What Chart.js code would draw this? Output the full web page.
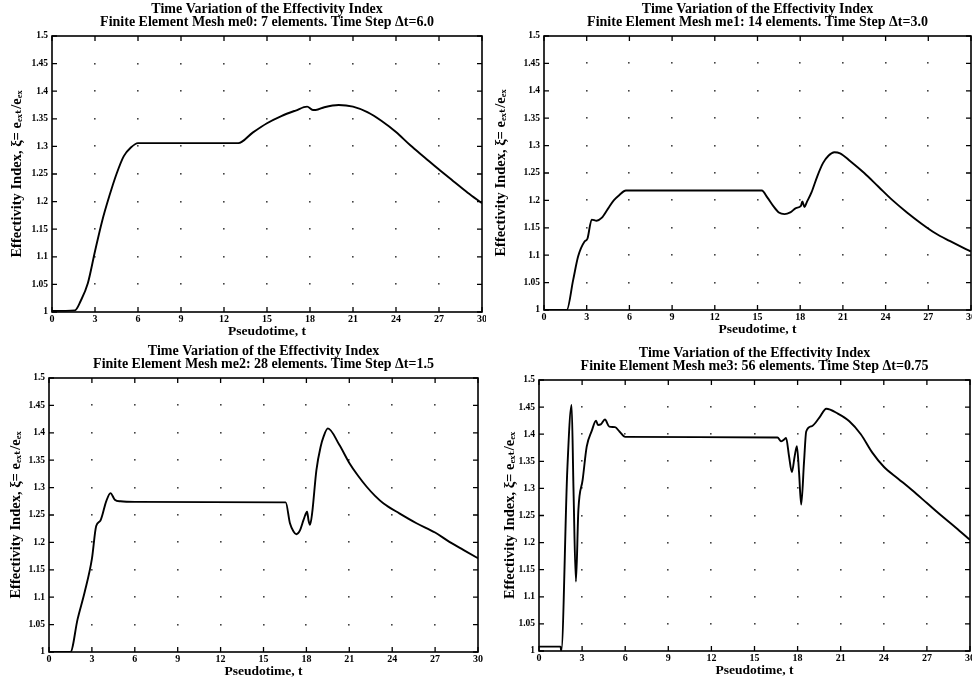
<!DOCTYPE html>
<html>
<head>
<meta charset="utf-8">
<script src="https://cdn.jsdelivr.net/npm/chart.js@4.4.1/dist/chart.umd.min.js"></script>
<style>
  html, body { margin:0; padding:0; background:#fff; overflow:hidden; width:972px; height:679px; }
  canvas { position:absolute; }
</style>
</head>
<body>
<canvas id="c1" width="486" height="340" style="left:0;top:0"></canvas>
<canvas id="c2" width="486" height="340" style="left:486px;top:0"></canvas>
<canvas id="c3" width="486" height="339" style="left:0;top:340px"></canvas>
<canvas id="c4" width="486" height="339" style="left:486px;top:340px"></canvas>
<script>
// ---- data ----
const xTicks = [0, 3, 6, 9, 12, 15, 18, 21, 24, 27, 30];
const yTicks = [1, 1.05, 1.1, 1.15, 1.2, 1.25, 1.3, 1.35, 1.4, 1.45, 1.5];
const yTickLabels = ['1', '1.05', '1.1', '1.15', '1.2', '1.25', '1.3', '1.35', '1.4', '1.45', '1.5'];

const titleLine1 = 'Time Variation of the Effectivity Index';
const subtitles = [
  'Finite Element Mesh me0: 7 elements. Time Step \u0394t=6.0',
  'Finite Element Mesh me1: 14 elements. Time Step \u0394t=3.0',
  'Finite Element Mesh me2: 28 elements. Time Step \u0394t=1.5',
  'Finite Element Mesh me3: 56 elements. Time Step \u0394t=0.75'
];
const xTitle = 'Pseudotime, t';
const yTitle = 'Effectivity Index, \u03BE= e\u2091\u2093\u209C/e\u2091\u2093';

const me0T = [0, 1.6, 2.0, 2.5, 3.0, 3.5, 4.0, 4.5, 5.0, 5.5, 6.0, 13.0, 14, 15, 16, 17, 17.8, 18.2, 18.4, 19, 20, 21, 22, 23, 24, 25, 26, 27, 28, 29, 30];
const me0V = [1.002, 1.003, 1.02, 1.052, 1.11, 1.165, 1.21, 1.25, 1.282, 1.298, 1.306, 1.306, 1.325, 1.342, 1.355, 1.365, 1.372, 1.366, 1.366, 1.371, 1.375, 1.372, 1.362, 1.346, 1.326, 1.302, 1.28, 1.258, 1.237, 1.216, 1.197];

const me1T = [0, 1.6, 2.05, 2.4, 2.85, 3.05, 3.35, 3.7, 4.05, 4.5, 4.9, 5.3, 5.75, 15.3, 15.7, 16.1, 16.5, 16.9, 17.3, 17.7, 18.05, 18.15, 18.3, 18.45, 18.8, 19.2, 19.6, 20.0, 20.4, 20.8, 21.5, 22.5, 23.5, 24.5, 25.5, 26.5, 27.5, 28.5, 29.5, 30];
const me1V = [1.0, 1.0, 1.055, 1.098, 1.125, 1.13, 1.165, 1.163, 1.168, 1.185, 1.2, 1.21, 1.218, 1.218, 1.205, 1.19, 1.178, 1.175, 1.178, 1.186, 1.19, 1.198, 1.188, 1.196, 1.215, 1.244, 1.268, 1.282, 1.288, 1.286, 1.272, 1.25, 1.225, 1.2, 1.178, 1.158, 1.14, 1.126, 1.113, 1.107];

const me2T = [0, 1.5, 2.0, 2.5, 3.0, 3.3, 3.6, 4.0, 4.3, 4.6, 5.0, 6.0, 16.55, 16.85, 17.1, 17.3, 17.55, 17.8, 18.05, 18.15, 18.25, 18.4, 18.7, 19.0, 19.2, 19.5, 20.3, 21.0, 21.6, 22.2, 22.8, 23.4, 24.5, 25.7, 27.0, 28.0, 29.0, 30];
const me2V = [1.0, 1.0, 1.06, 1.11, 1.17, 1.23, 1.24, 1.275, 1.29, 1.278, 1.275, 1.274, 1.273, 1.235, 1.22, 1.215, 1.222, 1.241, 1.256, 1.24, 1.232, 1.253, 1.332, 1.375, 1.393, 1.408, 1.378, 1.345, 1.322, 1.302, 1.285, 1.271, 1.253, 1.235, 1.218, 1.201, 1.186, 1.171];

const me3T = [0, 1.5, 1.55, 1.97, 2.27, 2.4, 2.57, 2.74, 3.04, 3.32, 3.67, 3.97, 4.1, 4.3, 4.59, 4.89, 5.29, 5.6, 6.0, 16.6, 16.84, 17.05, 17.2, 17.4, 17.6, 17.8, 17.95, 18.1, 18.25, 18.45, 18.6, 19.0, 19.5, 20.0, 20.8, 21.6, 22.4, 23.2, 24.0, 25.0, 26.0, 27.0, 28.0, 29.0, 30.0];
const me3V = [1.008, 1.008, 1.0, 1.334, 1.454, 1.3, 1.128, 1.26, 1.316, 1.377, 1.406, 1.425, 1.417, 1.418, 1.427, 1.414, 1.413, 1.405, 1.395, 1.394, 1.387, 1.39, 1.393, 1.36, 1.33, 1.36, 1.378, 1.33, 1.27, 1.35, 1.405, 1.415, 1.43, 1.447, 1.438, 1.424, 1.4, 1.366, 1.34, 1.318, 1.296, 1.273, 1.25, 1.228, 1.205];

// ---- drawing ----
const SERIF = '"Liberation Serif", "DejaVu Serif", serif';

const framePlugin = {
  id: 'matlabFrame',
  beforeDatasetsDraw(chart) {
    const ctx = chart.ctx, xs = chart.scales.x, ys = chart.scales.y;
    ctx.save();
    ctx.fillStyle = '#444';
    xTicks.slice(1, -1).forEach(tx => {
      yTicks.slice(1, -1).forEach(ty => {
        const px = xs.getPixelForValue(tx), py = ys.getPixelForValue(ty);
        ctx.fillRect(Math.round(px) - 1, Math.round(py) - 1, 1.6, 1.6);
      });
    });
    ctx.restore();
  },
  afterDatasetsDraw(chart) {
    const ctx = chart.ctx, a = chart.chartArea, xs = chart.scales.x, ys = chart.scales.y;
    ctx.save();
    ctx.strokeStyle = '#000';
    ctx.lineWidth = 1.6;
    ctx.strokeRect(a.left, a.top, a.right - a.left, a.bottom - a.top);
    ctx.lineWidth = 1.3;
    ctx.beginPath();
    const L = 5;
    xTicks.forEach(tx => {
      const px = xs.getPixelForValue(tx);
      ctx.moveTo(px, a.bottom); ctx.lineTo(px, a.bottom - L);
      ctx.moveTo(px, a.top); ctx.lineTo(px, a.top + L);
    });
    yTicks.forEach(ty => {
      const py = ys.getPixelForValue(ty);
      ctx.moveTo(a.left, py); ctx.lineTo(a.left + L, py);
      ctx.moveTo(a.right, py); ctx.lineTo(a.right - L, py);
    });
    ctx.stroke();
    ctx.restore();
  }
};

function makeChart(id, tArr, vArr, sub, g) {
  const pts = tArr.map((t, i) => ({ x: t, y: vArr[i] }));
  const TFS = 14, TLH = 0.95, tLine = TFS * TLH;
  return new Chart(document.getElementById(id), {
    type: 'line',
    data: { datasets: [{ data: pts, borderColor: '#000', borderWidth: 1.9, pointRadius: 0, cubicInterpolationMode: 'monotone', fill: false }] },
    plugins: [framePlugin],
    options: {
      responsive: false, animation: false, devicePixelRatio: 1,
      layout: { padding: { left: 0, right: g.padR, top: 0, bottom: 0 } },
      plugins: {
        legend: { display: false }, tooltip: { enabled: false },
        title: {
          display: true, fullSize: false, text: [titleLine1, sub], color: '#000',
          font: { family: SERIF, size: TFS, weight: 'bold', lineHeight: TLH },
          padding: { top: g.tPad, bottom: g.T - g.tPad - 2 * tLine }
        }
      },
      scales: {
        x: {
          type: 'linear', min: 0, max: 30,
          afterBuildTicks: s => { s.ticks = xTicks.map(v => ({ value: v })); },
          afterFit: s => { s.height = g.xH; s.paddingLeft = 0; s.paddingRight = 0; },
          ticks: { color: '#000', font: { family: SERIF, size: 10, weight: 'bold', lineHeight: 1 }, padding: 2, maxRotation: 0, autoSkip: false },
          grid: { display: false, drawTicks: false },
          border: { display: false },
          title: { display: true, text: xTitle, color: '#000', font: { family: SERIF, size: 13.5, weight: 'bold', lineHeight: 1 }, padding: { top: 0, bottom: g.xtPad } }
        },
        y: {
          type: 'linear', min: 1, max: 1.5,
          afterBuildTicks: s => { s.ticks = yTicks.map(v => ({ value: v })); },
          afterFit: s => { s.width = g.L; s.paddingTop = 0; s.paddingBottom = 0; },
          ticks: {
            color: '#000', font: { family: SERIF, size: 9.5, weight: 'bold', lineHeight: 1 }, padding: 4, autoSkip: false,
            callback: (v) => { const i = yTicks.findIndex(t => Math.abs(t - v) < 1e-9); return i >= 0 ? yTickLabels[i] : ''; }
          },
          grid: { display: false, drawTicks: false },
          border: { display: false },
          title: { display: true, text: yTitle, color: '#000', font: { family: SERIF, size: 14.5, weight: 'bold', lineHeight: 1 }, padding: { top: g.ytPad, bottom: 0 } }
        }
      }
    }
  });
}

makeChart('c1', me0T, me0V, subtitles[0], { L: 52, padR: 4, T: 36, xH: 28, tPad: 2.5, xtPad: 1.5, ytPad: 10 });
makeChart('c2', me1T, me1V, subtitles[1], { L: 58, padR: 1, T: 36, xH: 30, tPad: 2.5, xtPad: 3.5, ytPad: 8 });
makeChart('c3', me2T, me2V, subtitles[2], { L: 49, padR: 8, T: 38, xH: 27, tPad: 4.5, xtPad: 0.5, ytPad: 9 });
makeChart('c4', me3T, me3V, subtitles[3], { L: 53, padR: 2, T: 40, xH: 28, tPad: 6.5, xtPad: 1.5, ytPad: 17 });
</script>
</body>
</html>
